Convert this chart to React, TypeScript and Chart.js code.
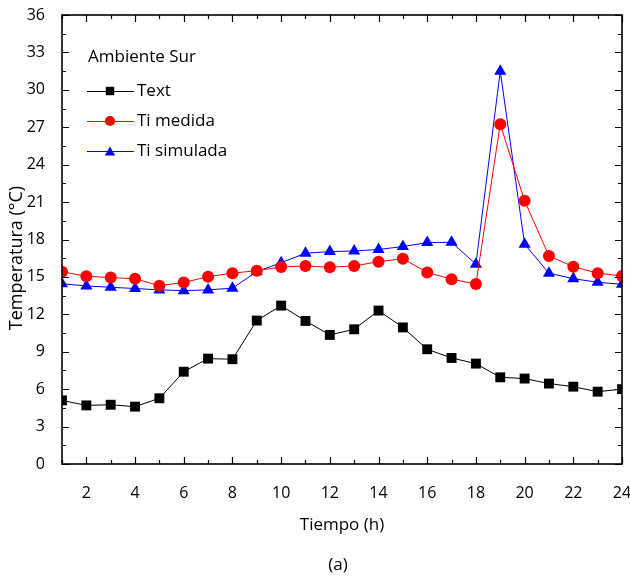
import React, { useEffect, useRef } from "react";
import { Chart, registerables } from "chart.js";

Chart.register(...registerables);

const hours = [1, 2, 3, 4, 5, 6, 7, 8, 9, 10, 11, 12, 13, 14, 15, 16, 17, 18, 19, 20, 21, 22, 23, 24];
const textValues = [5.1, 4.7, 4.75, 4.6, 5.27, 7.4, 8.45, 8.4, 11.5, 12.7, 11.47, 10.35, 10.8, 12.3, 10.95, 9.2, 8.5, 8.05, 6.95, 6.85, 6.45, 6.2, 5.8, 6.0];
const tiMedida = [15.42, 15.05, 14.95, 14.85, 14.3, 14.55, 15.02, 15.3, 15.5, 15.8, 15.88, 15.78, 15.88, 16.22, 16.46, 15.36, 14.82, 14.43, 27.24, 21.1, 16.68, 15.82, 15.3, 15.08];
const tiSimulada = [14.45, 14.28, 14.17, 14.07, 13.96, 13.9, 13.96, 14.1, 15.42, 16.14, 16.9, 17.03, 17.08, 17.2, 17.43, 17.75, 17.78, 16.02, 31.5, 17.62, 15.3, 14.86, 14.57, 14.41];
const xTickLabels = [2, 4, 6, 8, 10, 12, 14, 16, 18, 20, 22, 24];
const yTickLabels = [0, 3, 6, 9, 12, 15, 18, 21, 24, 27, 30, 33, 36];
const seriesNames = ["Text", "Ti medida", "Ti simulada"];
const legendTitle = "Ambiente Sur";
const xTitle = "Tiempo (h)";
const yTitle = "Temperatura (°C)";
const panelLabel = "(a)";

const FONT = "'Open Sans', 'Noto Sans', sans-serif";

function drawMarker(ctx: CanvasRenderingContext2D, style: string, x: number, y: number, r: number, color: string) {
  ctx.save();
  ctx.fillStyle = color;
  ctx.beginPath();
  if (style === "rect") {
    const s = Math.SQRT1_2 * r;
    ctx.rect(x - s, y - s, 2 * s, 2 * s);
  } else if (style === "circle") {
    ctx.arc(x, y, r, 0, Math.PI * 2);
  } else {
    const a = -Math.PI / 2;
    for (let i = 0; i < 3; i++) {
      const ang = a + (i * 2 * Math.PI) / 3;
      const px = x + Math.cos(ang) * r;
      const py = y + Math.sin(ang) * r + r * 0.25;
      if (i === 0) ctx.moveTo(px, py);
      else ctx.lineTo(px, py);
    }
    ctx.closePath();
  }
  ctx.fill();
  ctx.restore();
}

const framePlugin = {
  id: "framePlugin",
  afterDraw(chart: any) {
    const { ctx, chartArea } = chart;
    const { left, right, top, bottom } = chartArea;
    const xs = chart.scales.x;
    const ys = chart.scales.y;
    ctx.save();
    ctx.strokeStyle = "#000";
    ctx.lineWidth = 1.6;
    ctx.strokeRect(left, top, right - left, bottom - top);
    ctx.lineWidth = 1.2;
    for (let v = 1; v <= 24; v++) {
      const px = Math.round(xs.getPixelForValue(v)) + 0.5;
      const len = v % 2 === 0 ? 7 : 4;
      ctx.beginPath();
      ctx.moveTo(px, bottom);
      ctx.lineTo(px, bottom - len);
      ctx.moveTo(px, top);
      ctx.lineTo(px, top + len);
      ctx.stroke();
    }
    for (let v = 0; v <= 36; v += 1.5) {
      const py = Math.round(ys.getPixelForValue(v)) + 0.5;
      const len = v % 3 === 0 ? 7 : 4;
      ctx.beginPath();
      ctx.moveTo(left, py);
      ctx.lineTo(left + len, py);
      ctx.moveTo(right, py);
      ctx.lineTo(right - len, py);
      ctx.stroke();
    }
    ctx.fillStyle = "#000";
    ctx.font = `17px ${FONT}`;
    ctx.textAlign = "center";
    ctx.textBaseline = "middle";
    ctx.fillText(xTitle, (left + right) / 2, 525);
    ctx.fillText(panelLabel, 338, 565);
    ctx.save();
    ctx.font = `18px ${FONT}`;
    ctx.translate(17, 258);
    ctx.rotate(-Math.PI / 2);
    ctx.fillText(yTitle, 0, 0);
    ctx.restore();
    ctx.textAlign = "left";
    ctx.font = `17px ${FONT}`;
    ctx.fillText(legendTitle, 88, 57);
    const rows = [91, 121, 151];
    chart.data.datasets.forEach((ds: any, i: number) => {
      const y = rows[i];
      ctx.strokeStyle = ds.borderColor;
      ctx.lineWidth = 1;
      ctx.beginPath();
      ctx.moveTo(87, y + 0.5);
      ctx.lineTo(134, y + 0.5);
      ctx.stroke();
      drawMarker(ctx, ds.pointStyle, 110, y, ds.pointRadius * 0.85, ds.backgroundColor);
      ctx.fillStyle = "#000";
      ctx.fillText(ds.label, 137, y);
    });
    ctx.restore();
  },
};

export default function App() {
  const canvasRef = useRef<HTMLCanvasElement | null>(null);

  useEffect(() => {
    const canvas = canvasRef.current;
    if (!canvas) return;
    const mk = (vals: number[]) => hours.map((h, i) => ({ x: h, y: vals[i] }));
    const chart = new Chart(canvas, {
      type: "line",
      data: {
        datasets: [
          {
            label: seriesNames[0],
            data: mk(textValues),
            borderColor: "#000000",
            backgroundColor: "#000000",
            borderWidth: 1,
            pointStyle: "rect",
            pointRadius: 7,
            pointBorderWidth: 0,
          },
          {
            label: seriesNames[1],
            data: mk(tiMedida),
            borderColor: "#ff0000",
            backgroundColor: "#ff0000",
            borderWidth: 1,
            pointStyle: "circle",
            pointRadius: 6,
            pointBorderWidth: 0,
          },
          {
            label: seriesNames[2],
            data: mk(tiSimulada),
            borderColor: "#0000ff",
            backgroundColor: "#0000ff",
            borderWidth: 1,
            pointStyle: "triangle",
            pointRadius: 7,
            pointBorderWidth: 0,
          },
        ] as any,
      },
      options: {
        animation: false,
        responsive: false,
        maintainAspectRatio: false,
        layout: { padding: { left: 0, top: 15, right: 8, bottom: 0 } },
        plugins: { legend: { display: false }, tooltip: { enabled: false } },
        scales: {
          x: {
            type: "linear",
            min: 1,
            max: 24,
            grid: { display: false },
            border: { display: false },
            afterBuildTicks: (scale: any) => {
              scale.ticks = xTickLabels.map((v) => ({ value: v }));
            },
            afterFit: (scale: any) => {
              scale.height = 117;
              scale.paddingLeft = 0;
              scale.paddingRight = 0;
            },
            ticks: {
              color: "#000",
              font: { family: FONT, size: 16 },
              padding: 12,
              maxRotation: 0,
              autoSkip: false,
            },
          },
          y: {
            type: "linear",
            min: 0,
            max: 36,
            grid: { display: false },
            border: { display: false },
            afterBuildTicks: (scale: any) => {
              scale.ticks = yTickLabels.map((v) => ({ value: v }));
            },
            afterFit: (scale: any) => {
              scale.width = 62;
              scale.paddingTop = 0;
              scale.paddingBottom = 0;
            },
            ticks: {
              color: "#000",
              font: { family: FONT, size: 16 },
              padding: 9,
              autoSkip: false,
            },
          },
        },
      } as any,
      plugins: [framePlugin],
    });
    return () => chart.destroy();
  }, []);

  return (
    <div style={{ position: "absolute", left: 0, top: 0, width: 630, height: 581, background: "#fff" }}>
      <canvas ref={canvasRef} width={630} height={581} style={{ width: 630, height: 581, display: "block" }} />
    </div>
  );
}
